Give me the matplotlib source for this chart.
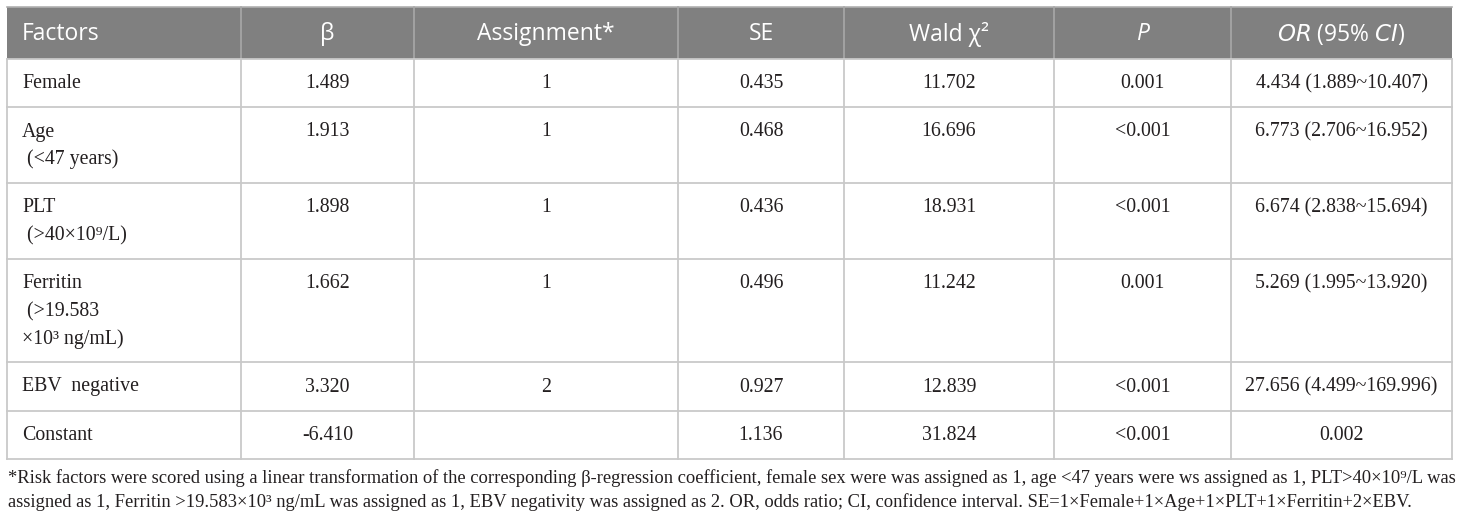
import matplotlib.pyplot as plt
from matplotlib.patches import Rectangle

plt.rcParams['font.family'] = ['Liberation Serif', 'DejaVu Serif']

# table content
headers = ["Factors", "β", "Assignment*", "SE", "Wald χ²", "P", "OR (95% CI)"]
factors = [
    ["Female"],
    ["Age", " (<47 years)"],
    ["PLT", " (>40×10⁹/L)"],
    ["Ferritin", " (>19.583", "×10³ ng/mL)"],
    ["EBV  negative"],
    ["Constant"],
]
beta = ["1.489", "1.913", "1.898", "1.662", "3.320", "-6.410"]
assignment = ["1", "1", "1", "1", "2", ""]
se = ["0.435", "0.468", "0.436", "0.496", "0.927", "1.136"]
wald = ["11.702", "16.696", "18.931", "11.242", "12.839", "31.824"]
p_values = ["0.001", "<0.001", "<0.001", "0.001", "<0.001", "<0.001"]
odds_ratio = ["4.434 (1.889~10.407)", "6.773 (2.706~16.952)", "6.674 (2.838~15.694)",
              "5.269 (1.995~13.920)", "27.656 (4.499~169.996)", "0.002"]
footnote = [
    "*Risk factors were scored using a linear transformation of the corresponding β-regression coefficient, "
    "female sex were was assigned as 1, age <47 years were ws assigned as 1, PLT>40×10⁹/L was",
    "assigned as 1, Ferritin >19.583×10³ ng/mL was assigned as 1, EBV negativity was assigned as 2. "
    "OR, odds ratio; CI, confidence interval. SE=1×Female+1×Age+1×PLT+1×Ferritin+2×EBV.",
]

# layout in pixels
col_x = [7, 241, 414, 678, 844, 1054, 1231, 1452]
row_y = [7, 59, 107, 183, 259, 362, 411, 459]
line_gap = 27.5
body_size = 14.3
head_size = 16.5
foot_size = 13.3
grid = "#c9c9c9"
ink = "#231f20"

fig = plt.figure(figsize=(14.6, 5.21), dpi=100)
ax = fig.add_axes([0, 0, 1, 1])
ax.set_xlim(0, 1460)
ax.set_ylim(521, 0)
ax.axis("off")

# header
ax.add_patch(Rectangle((col_x[0], row_y[0]), col_x[-1] - col_x[0], row_y[1] - row_y[0],
                       facecolor="#808080", edgecolor="none"))
ax.plot([col_x[0], col_x[-1]], [row_y[0], row_y[0]], color="#b0b0b0", lw=1.2)
for x in col_x[1:-1]:
    ax.plot([x, x], [row_y[0], row_y[1]], color="#a8a8a8", lw=1.2)

head_y = (row_y[0] + row_y[1]) / 2 + 1.5
ax.text(22, head_y, headers[0], color="white", fontsize=head_size, family="Open Sans",
        ha="left", va="center")
for i, h in enumerate(headers[1:], start=1):
    cx = (col_x[i] + col_x[i + 1]) / 2
    if h == "P":
        ax.text(cx, head_y, h, color="white", fontsize=head_size, family="Open Sans",
                style="italic", ha="center", va="center")
    elif h.startswith("OR"):
        ax.text(cx, head_y, r"$\it{OR}$ (95% $\it{CI}$)", color="white", fontsize=head_size,
                family="Open Sans", ha="center", va="center")
    else:
        ax.text(cx, head_y, h, color="white", fontsize=head_size, family="Open Sans",
                ha="center", va="center")

# body grid
for y in row_y[1:]:
    ax.plot([col_x[0], col_x[-1]], [y, y], color=grid, lw=1.3)
for x in col_x:
    ax.plot([x, x], [row_y[1], row_y[-1]], color=grid, lw=1.3)

# body text
columns = [beta, assignment, se, wald, p_values, odds_ratio]
for r in range(len(factors)):
    top = row_y[r + 1] + 25
    for k, line in enumerate(factors[r]):
        ax.text(22, top + k * line_gap, line, color=ink, fontsize=body_size,
                ha="left", va="center")
    for c, col in enumerate(columns, start=1):
        cx = (col_x[c] + col_x[c + 1]) / 2
        ax.text(cx, top, col[r], color=ink, fontsize=body_size, ha="center", va="center")

# footnote
ax.text(8, 478, footnote[0], color=ink, fontsize=foot_size, ha="left", va="center")
ax.text(8, 502, footnote[1], color=ink, fontsize=foot_size, ha="left", va="center")

fig.savefig("out.png", dpi=100)
